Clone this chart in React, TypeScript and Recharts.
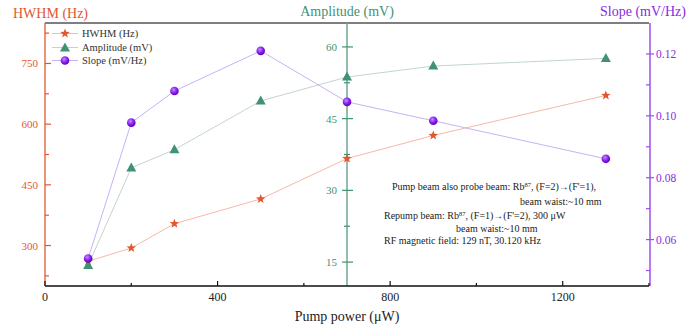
import React from 'react';
import { ComposedChart, Line, XAxis, YAxis, ReferenceLine, Legend } from 'recharts';

const power = [100, 200, 300, 500, 700, 900, 1300];
const hwhm = [261, 294, 354, 415, 515, 572, 671];
const amplitude = [14.3, 34.7, 38.5, 48.7, 53.7, 56.0, 57.6];
const slope = [0.0539, 0.0978, 0.108, 0.121, 0.1045, 0.0984, 0.0861];

const xTicks = [0, 200, 400, 600, 800, 1000, 1200, 1400];
const hwhmTicks = [225, 300, 375, 450, 525, 600, 675, 750, 825];
const ampTicks = [15, 22.5, 30, 37.5, 45, 52.5, 60];
const slopeTicks = [0.05, 0.06, 0.07, 0.08, 0.09, 0.1, 0.11, 0.12];
const seriesOrder = ['hwhm', 'amplitude', 'slope'];

const data = power.map((p, i) => ({
  power: p,
  hwhm: hwhm[i],
  amplitude: amplitude[i],
  slope: slope[i],
}));

const W = 688;
const H = 332;
const LEFT_W = 45;
const RIGHT_W = 39;
const AMP_W = 1;
const AMP_AT = 700;
const X_MAX = 1400;
const AMP_X = LEFT_W + (AMP_AT / X_MAX) * (W - LEFT_W - RIGHT_W);

const FONT = '"Liberation Serif", "DejaVu Serif", serif';
const RED = '#e4572e';
const RED_LINE = '#f6b9aa';
const GREEN = '#3f9273';
const GREEN_AXIS = '#6fa893';
const GREEN_LINE = '#c2d5cd';
const PURPLE = '#8a2be2';
const PURPLE_AXIS = '#a04cf0';
const PURPLE_LINE = '#c6b3f6';

function starPath(cx: number, cy: number, R: number, r: number) {
  let d = '';
  for (let i = 0; i < 10; i++) {
    const rad = i % 2 === 0 ? R : r;
    const a = -Math.PI / 2 + (i * Math.PI) / 5;
    d += (i === 0 ? 'M' : 'L') + (cx + rad * Math.cos(a)).toFixed(2) + ',' + (cy + rad * Math.sin(a)).toFixed(2);
  }
  return d + 'Z';
}

const StarIcon = ({ cx, cy }: { cx: number; cy: number }) => (
  <path d={starPath(cx, cy, 5, 2.1)} fill={RED} />
);
const TriIcon = ({ cx, cy }: { cx: number; cy: number }) => (
  <path d={`M${cx},${cy - 5.5}L${cx - 5},${cy + 3.5}L${cx + 5},${cy + 3.5}Z`} fill={GREEN} />
);
const BallIcon = ({ cx, cy, id }: { cx: number; cy: number; id: string }) => (
  <g>
    <defs>
      <radialGradient id={id} cx="40%" cy="35%" r="65%">
        <stop offset="0%" stopColor="#c58cff" />
        <stop offset="55%" stopColor="#8a22f0" />
        <stop offset="100%" stopColor="#5a00b8" />
      </radialGradient>
    </defs>
    <circle cx={cx} cy={cy} r={4.3} fill={`url(#${id})`} />
  </g>
);

const starDot = (p: any) =>
  p.cx == null ? null : <g key={`s-${p.index}`}><StarIcon cx={p.cx} cy={p.cy} /></g>;
const triDot = (p: any) =>
  p.cx == null ? null : <g key={`t-${p.index}`}><TriIcon cx={p.cx} cy={p.cy} /></g>;
const ballDot = (p: any) =>
  p.cx == null ? null : <g key={`b-${p.index}`}><BallIcon cx={p.cx} cy={p.cy} id={`ball-${p.index}`} /></g>;

const XTick = (props: any) => {
  const { x, y, payload } = props;
  const major = payload.value % 400 === 0;
  return (
    <g>
      <line x1={x} x2={x} y1={y} y2={y - (major ? 5 : 3)} stroke="#111" strokeWidth={1.2} />
      {major && (
        <text x={x} y={y + 15} textAnchor="middle" fontSize={12} fontFamily={FONT} fill="#222">
          {payload.value}
        </text>
      )}
    </g>
  );
};

const HwhmTick = (props: any) => {
  const { x, y, payload } = props;
  const major = payload.value % 150 === 0;
  return (
    <g>
      <line x1={x} x2={x + (major ? 6 : 4)} y1={y} y2={y} stroke={RED} strokeWidth={1.2} />
      {major && (
        <text x={x - 7} y={y + 4} textAnchor="end" fontSize={11} fontFamily={FONT} fill={RED}>
          {payload.value}
        </text>
      )}
    </g>
  );
};

const AmpTick = (props: any) => {
  const { y, payload } = props;
  const major = payload.value % 15 === 0;
  return (
    <g>
      <line
        x1={AMP_X - (major ? 5 : 3)}
        x2={AMP_X + (major ? 6 : 3)}
        y1={y}
        y2={y}
        stroke={GREEN}
        strokeWidth={1.2}
      />
      {major && (
        <text x={AMP_X - 10} y={y + 4} textAnchor="end" fontSize={11} fontFamily={FONT} fill={GREEN}>
          {payload.value}
        </text>
      )}
    </g>
  );
};

const SlopeTick = (props: any) => {
  const { x, y, payload } = props;
  const major = Math.round(payload.value * 100) % 2 === 0;
  return (
    <g>
      <line x1={x - 4} x2={x + (major ? 4 : 0)} y1={y} y2={y} stroke={PURPLE_AXIS} strokeWidth={1.2} />
      {major && (
        <text x={x + 6} y={y + 4} textAnchor="start" fontSize={11.5} fontFamily={FONT} fill={PURPLE}>
          {payload.value.toFixed(2)}
        </text>
      )}
    </g>
  );
};

const legendStyle: Record<string, { line: string; icon: (id: string) => React.ReactNode }> = {
  hwhm: { line: RED_LINE, icon: () => <StarIcon cx={15} cy={6.5} /> },
  amplitude: { line: GREEN_LINE, icon: () => <TriIcon cx={15} cy={7} /> },
  slope: { line: PURPLE_LINE, icon: (id) => <BallIcon cx={15} cy={6.5} id={id} /> },
};

const renderLegend = (props: any) => {
  const items = [...(props.payload || [])].sort(
    (a: any, b: any) => seriesOrder.indexOf(a.dataKey) - seriesOrder.indexOf(b.dataKey)
  );
  return (
    <div style={{ fontFamily: FONT }}>
      {items.map((entry: any) => {
        const st = legendStyle[entry.dataKey];
        return (
          <div key={entry.dataKey} style={{ display: 'flex', alignItems: 'center', height: 13.5 }}>
            <svg width={30} height={13} style={{ display: 'block' }}>
              <line x1={2} x2={28} y1={6.5} y2={6.5} stroke={st.line} strokeWidth={1} />
              {st.icon(`leg-${entry.dataKey}`)}
            </svg>
            <span style={{ marginLeft: 2, fontSize: 10.5, color: '#333', whiteSpace: 'nowrap' }}>{entry.value}</span>
          </div>
        );
      })}
    </div>
  );
};

const noteStyle: React.CSSProperties = {
  position: 'absolute',
  fontSize: 10,
  color: '#222',
  whiteSpace: 'nowrap',
  lineHeight: '12px',
};
const sup: React.CSSProperties = { fontSize: 6.5, verticalAlign: 'top', lineHeight: '8px' };

export default function App() {
  return (
    <div style={{ position: 'absolute', left: 0, top: 0, width: W, height: H, fontFamily: FONT, background: '#fff' }}>
      <ComposedChart width={W} height={H} data={data} margin={{ top: 23, right: 0, bottom: 0, left: 0 }}>
        <XAxis
          dataKey="power"
          type="number"
          domain={[0, X_MAX]}
          ticks={xTicks}
          interval={0}
          height={46}
          tickSize={0}
          tickMargin={0}
          tickLine={false}
          tick={XTick}
          axisLine={{ stroke: '#111', strokeWidth: 1.3 }}
        />
        <YAxis
          yAxisId="hwhm"
          orientation="left"
          width={LEFT_W}
          type="number"
          domain={[200, 850]}
          ticks={hwhmTicks}
          interval={0}
          tickSize={0}
          tickMargin={0}
          tickLine={false}
          tick={HwhmTick}
          axisLine={{ stroke: RED, strokeWidth: 1.3 }}
        />
        <YAxis
          yAxisId="amp"
          orientation="right"
          width={AMP_W}
          type="number"
          domain={[10, 65]}
          ticks={ampTicks}
          interval={0}
          tickSize={0}
          tickMargin={0}
          tickLine={false}
          tick={AmpTick}
          axisLine={false}
        />
        <YAxis
          yAxisId="slope"
          orientation="right"
          width={RIGHT_W - AMP_W}
          type="number"
          domain={[0.045, 0.13]}
          ticks={slopeTicks}
          interval={0}
          tickSize={0}
          tickMargin={0}
          tickLine={false}
          tick={SlopeTick}
          axisLine={{ stroke: PURPLE_AXIS, strokeWidth: 1.5 }}
        />
        <ReferenceLine y={850} yAxisId="hwhm" stroke="#555" strokeWidth={1.5} />
        <ReferenceLine x={AMP_AT} yAxisId="hwhm" stroke={GREEN_AXIS} strokeWidth={1.5} />
        <Legend
          layout="vertical"
          align="center"
          verticalAlign="middle"
          wrapperStyle={{ left: 50, top: 27, width: 120 }}
          content={renderLegend}
        />
        <Line
          yAxisId="hwhm"
          dataKey="hwhm"
          name="HWHM (Hz)"
          type="linear"
          stroke={RED_LINE}
          strokeWidth={1}
          dot={starDot}
          activeDot={false}
          isAnimationActive={false}
        />
        <Line
          yAxisId="amp"
          dataKey="amplitude"
          name="Amplitude (mV)"
          type="linear"
          stroke={GREEN_LINE}
          strokeWidth={1}
          dot={triDot}
          activeDot={false}
          isAnimationActive={false}
        />
        <Line
          yAxisId="slope"
          dataKey="slope"
          name="Slope (mV/Hz)"
          type="linear"
          stroke={PURPLE_LINE}
          strokeWidth={1}
          dot={ballDot}
          activeDot={false}
          isAnimationActive={false}
        />
      </ComposedChart>

      <div style={{ position: 'absolute', left: 13, top: 6, fontSize: 14, color: RED, whiteSpace: 'nowrap' }}>HWHM (Hz)</div>
      <div style={{ position: 'absolute', left: AMP_X - 60, width: 120, top: 4, fontSize: 14, color: GREEN, textAlign: 'center', whiteSpace: 'nowrap' }}>
        Amplitude (mV)
      </div>
      <div style={{ position: 'absolute', right: 2, top: 4, fontSize: 14, color: PURPLE, whiteSpace: 'nowrap' }}>Slope (mV/Hz)</div>
      <div style={{ position: 'absolute', left: AMP_X - 80, width: 160, top: 309, fontSize: 14, color: '#222', textAlign: 'center', whiteSpace: 'nowrap' }}>
        Pump power (μW)
      </div>

      <div style={{ ...noteStyle, left: 392, top: 181 }}>
        Pump beam also probe beam: Rb<span style={sup}>87</span>, (F=2)→(F'=1),
      </div>
      <div style={{ ...noteStyle, left: 520, top: 196 }}>beam waist:~10 mm</div>
      <div style={{ ...noteStyle, left: 384, top: 210 }}>
        Repump beam: Rb<span style={sup}>87</span>, (F=1)→(F'=2), 300 μW
      </div>
      <div style={{ ...noteStyle, left: 456, top: 223 }}>beam waist:~10 mm</div>
      <div style={{ ...noteStyle, left: 384, top: 235 }}>RF magnetic field: 129 nT, 30.120 kHz</div>
    </div>
  );
}
